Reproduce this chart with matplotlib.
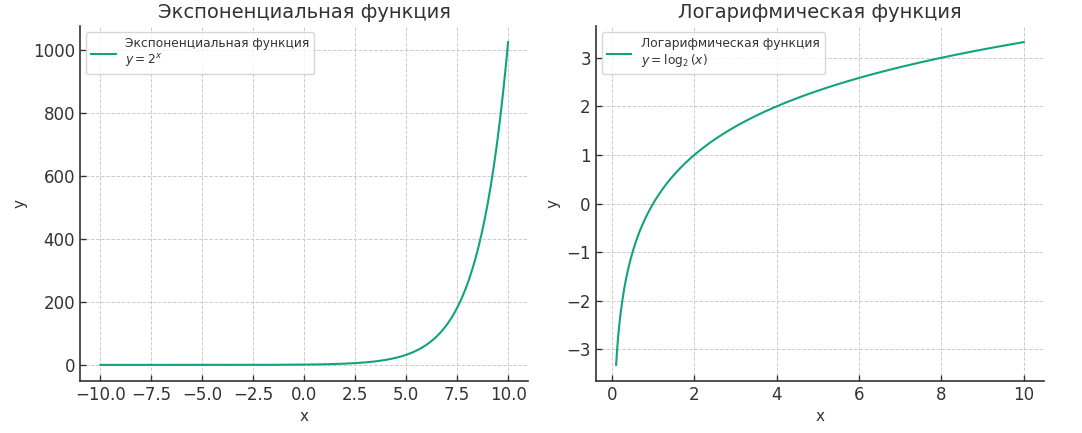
import numpy as np
import matplotlib
matplotlib.use('Agg')
import matplotlib.pyplot as plt

# ranges and base of the two plotted functions
exp_base = 2
exp_x_start, exp_x_end = -10, 10
log_x_start, log_x_end = 0.1, 10
n_points = 400

titles = ['Экспоненциальная функция', 'Логарифмическая функция']
legend_labels = ['Экспоненциальная функция\n$y = 2^x$',
                 'Логарифмическая функция\n$y = \\log_2{(x)}$']
exp_xticks = [-10.0, -7.5, -5.0, -2.5, 0.0, 2.5, 5.0, 7.5, 10.0]
exp_yticks = [0, 200, 400, 600, 800, 1000]
log_xticks = [0, 2, 4, 6, 8, 10]
log_yticks = [-3, -2, -1, 0, 1, 2, 3]

x_exp = np.linspace(exp_x_start, exp_x_end, n_points)
y_exp = exp_base ** x_exp
x_log = np.linspace(log_x_start, log_x_end, n_points)
y_log = np.log2(x_log)

line_color = '#10a37f'
text_color = '#333333'

plt.rcParams['font.family'] = ['DejaVu Sans']
plt.rcParams['text.color'] = text_color
plt.rcParams['axes.labelcolor'] = text_color
plt.rcParams['xtick.color'] = text_color
plt.rcParams['ytick.color'] = text_color

fig, axes = plt.subplots(1, 2, figsize=(10.82, 4.33), dpi=100)
fig.subplots_adjust(left=0.074, right=0.965, top=0.94, bottom=0.12, wspace=0.15)

data = [(x_exp, y_exp, exp_xticks, exp_yticks), (x_log, y_log, log_xticks, log_yticks)]
for ax, (xs, ys, xt, yt), title, lab in zip(axes, data, titles, legend_labels):
    ax.plot(xs, ys, color=line_color, linewidth=1.5, label=lab)
    ax.set_title(title, fontsize=14, color=text_color)
    ax.set_xlabel('x', fontsize=11)
    ax.set_ylabel('y', fontsize=11)
    ax.set_xticks(xt)
    ax.set_yticks(yt)
    ax.tick_params(direction='in', labelsize=12, length=4, width=1)
    ax.grid(True, linestyle='--', color='#cccccc', linewidth=0.7)
    for s in ['top', 'right']:
        ax.spines[s].set_visible(False)
    for s in ['left', 'bottom']:
        ax.spines[s].set_color(text_color)
        ax.spines[s].set_linewidth(1.2)
    ax.legend(loc='upper left', fontsize=8.8, handlelength=2.0)

fig.savefig('out.png', dpi=100)
